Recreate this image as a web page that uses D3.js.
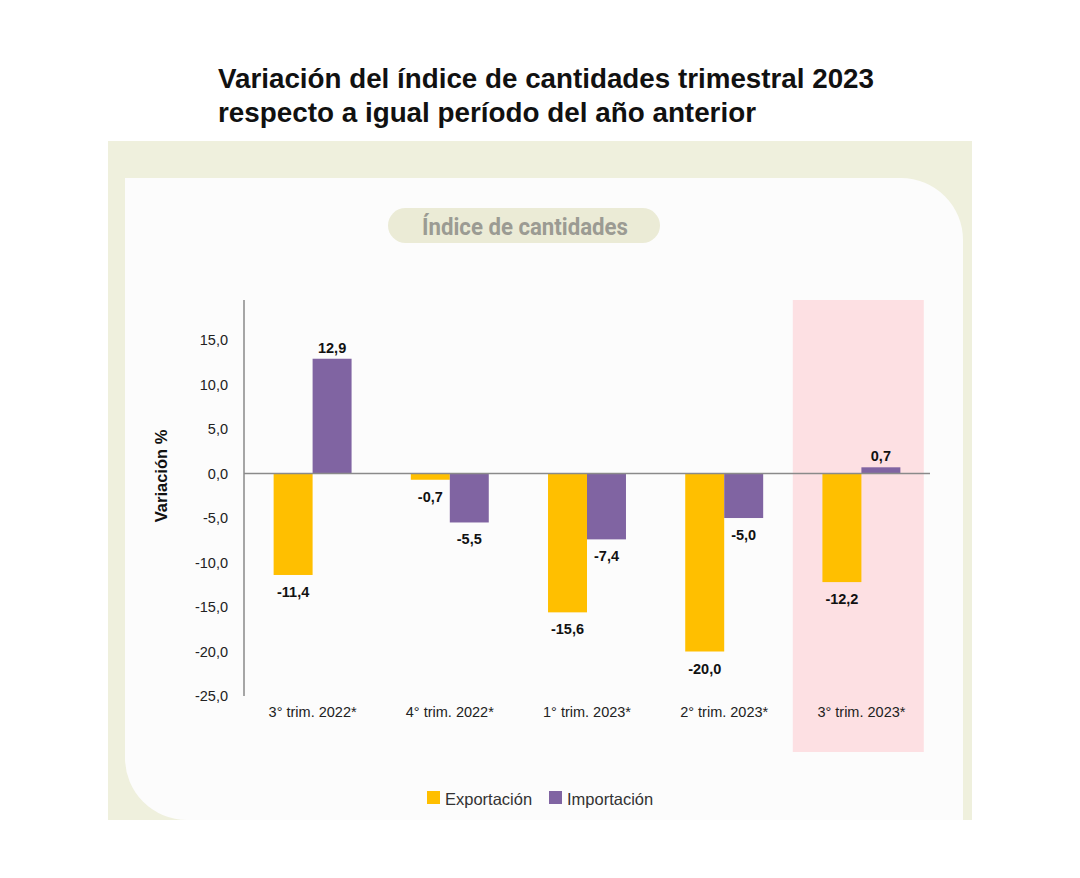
<!DOCTYPE html>
<html><head><meta charset="utf-8">
<script src="https://cdn.jsdelivr.net/npm/d3@7"></script>
<style>body{margin:0;background:#fff}svg{display:block}</style>
</head><body>
<svg id="c" width="1080" height="878"></svg>
<script>
const categories = ["3° trim. 2022*", "4° trim. 2022*", "1° trim. 2023*", "2° trim. 2023*", "3° trim. 2023*"];
const series = ["Exportación", "Importación"];
const exportacion = [-11.4, -0.7, -15.6, -20.0, -12.2];
const importacion = [12.9, -5.5, -7.4, -5.0, 0.7];
const yTicks = [15, 10, 5, 0, -5, -10, -15, -20, -25];
const highlighted = "3° trim. 2023*";
const colors = {"Exportación": "#ffbf00", "Importación": "#8064a2"};

const fmt = v => v.toFixed(1).replace(".", ",");
const svg = d3.select("#c");

// background panels
svg.append("rect").attr("x",108).attr("y",141).attr("width",864).attr("height",679).attr("fill","#eff0dd");
const clip = svg.append("clipPath").attr("id","pc");
clip.append("rect").attr("x",108).attr("y",141).attr("width",864).attr("height",679);
const g0 = svg.append("g").attr("clip-path","url(#pc)");
const L=125, T=178, R=963, B=880, r=62;
g0.append("path").attr("fill","#fcfcfc")
  .attr("d",`M${L},${T} H${R-r} A${r},${r} 0 0 1 ${R},${T+r} V${B} H${L} Z`);
const BB=820;
g0.append("path").attr("fill","#eff0dd")
  .attr("d",`M${L},${BB-r} A${r},${r} 0 0 0 ${L+r},${BB} H${L} Z`);

// title
const title = svg.append("g").attr("font-family","Liberation Sans, Arial, sans-serif").attr("font-weight","bold").attr("fill","#111");
title.append("text").attr("x",218).attr("y",88).attr("font-size",27).attr("textLength",656).attr("lengthAdjust","spacingAndGlyphs").text("Variación del índice de cantidades trimestral 2023");
title.append("text").attr("x",218).attr("y",122).attr("font-size",27).attr("textLength",538).attr("lengthAdjust","spacingAndGlyphs").text("respecto a igual período del año anterior");

// pill
svg.append("rect").attr("x",388).attr("y",208).attr("width",272).attr("height",35).attr("rx",17.5).attr("fill","#ebebd6");
svg.append("text").attr("x",422).attr("y",235).attr("font-family","Roboto, Liberation Sans, sans-serif").attr("font-weight","bold")
  .attr("font-size",23).attr("fill","#9b9b93").attr("textLength",206).attr("lengthAdjust","spacingAndGlyphs").text("Índice de cantidades");

// scales
const y = d3.scaleLinear().domain([-25, 19.5]).range([696, 300]);
const x0 = d3.scaleBand().domain(categories).range([244, 930]).padding(0);
const x1 = d3.scaleBand().domain(series).range([0, x0.bandwidth()]).paddingInner(0).paddingOuter(0.76);

// highlight
svg.append("rect").attr("x", x0(highlighted)).attr("y", 300).attr("width", 131).attr("height", 452).attr("fill","#fde0e3");

// y axis
const yAxis = d3.axisLeft(y).tickValues(yTicks).tickSize(0).tickPadding(16).tickFormat(fmt);
const ga = svg.append("g").attr("transform","translate(244,0)").call(yAxis);
ga.select(".domain").attr("stroke","#8a8a8a").attr("stroke-width",1.5).attr("d", `M0,${y(19.5)}V${y(-25)}`);
ga.selectAll("text").attr("font-family","Liberation Sans, Arial, sans-serif").attr("font-size",14.5).attr("fill","#222");

svg.append("text").attr("transform","translate(167,476) rotate(-90)").attr("text-anchor","middle")
  .attr("font-family","Liberation Sans, Arial, sans-serif").attr("font-weight","bold").attr("font-size",16.5).attr("fill","#111").text("Variación %");

// x labels
const xAxis = d3.axisBottom(x0).tickSize(0).tickPadding(0);
const gx = svg.append("g").attr("transform","translate(0,705)").call(xAxis);
gx.select(".domain").remove();
gx.selectAll("text").attr("font-family","Liberation Sans, Arial, sans-serif").attr("font-size",14.5).attr("fill","#222").attr("dy","0.8em");

// bars
const data = [];
categories.forEach((c,i)=>{ data.push({c, s:"Exportación", v:exportacion[i]}); data.push({c, s:"Importación", v:importacion[i]}); });
svg.append("g").selectAll("rect").data(data).join("rect")
  .attr("x", d => x0(d.c) + x1(d.s)).attr("width", x1.bandwidth())
  .attr("y", d => y(Math.max(0,d.v))).attr("height", d => Math.abs(y(d.v)-y(0)))
  .attr("fill", d => colors[d.s]);

// zero line
svg.append("line").attr("x1",244).attr("x2",930).attr("y1",y(0)).attr("y2",y(0)).attr("stroke","#8a8a8a").attr("stroke-width",1.5);

// value labels
svg.append("g").selectAll("text").data(data).join("text")
  .attr("x", d => x0(d.c) + x1(d.s) + x1.bandwidth()/2)
  .attr("y", d => d.v >= 0 ? y(d.v) - 6 : y(d.v) + 22)
  .attr("text-anchor","middle").attr("font-family","Liberation Sans, Arial, sans-serif").attr("font-weight","bold")
  .attr("font-size",14.5).attr("fill","#111").text(d => fmt(d.v));

// legend
const lg = svg.append("g").attr("font-family","Liberation Sans, Arial, sans-serif").attr("font-size",16.5).attr("fill","#333");
const lx = [427, 549];
series.forEach((s,i)=>{
  lg.append("rect").attr("x",lx[i]).attr("y",791).attr("width",13).attr("height",13).attr("fill",colors[s]);
  lg.append("text").attr("x",lx[i]+18).attr("y",805).text(s);
});
</script>
</body></html>
